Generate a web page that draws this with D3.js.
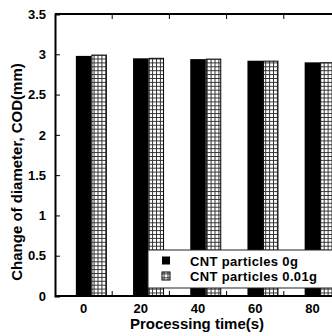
<!DOCTYPE html>
<html>
<head>
<meta charset="utf-8">
<script src="https://cdn.jsdelivr.net/npm/d3@7"></script>
<style>
    body { margin: 0; background: #fff; }
    svg { display: block; }
    .tick text { font-family: "Liberation Sans", Arial, sans-serif; font-weight: bold; font-size: 13px; }
</style>
</head>
<body>
<svg id="chart"></svg>
<script>
var times = ['0', '20', '40', '60', '80'];
var series = ['CNT particles 0g', 'CNT particles 0.01g'];
var cnt0 = [2.98, 2.95, 2.94, 2.92, 2.90];
var cnt001 = [2.99, 2.95, 2.94, 2.915, 2.895];
var yTicks = [0, 0.5, 1, 1.5, 2, 2.5, 3, 3.5];

const width = 332;
const height = 336;
const plotLeft = 55, plotTop = 14, plotBottom = 296;
const band = 57.2;

var svg = d3.select('#chart').attr('width', width).attr('height', height);

var defs = svg.append('defs');
var pat = defs.append('pattern')
    .attr('id', 'grid')
    .attr('patternUnits', 'userSpaceOnUse')
    .attr('width', 3.9)
    .attr('height', 3.9);
pat.append('rect').attr('width', 3.9).attr('height', 3.9).attr('fill', '#fff');
pat.append('path')
    .attr('d', 'M0,0.5H3.9M0.5,0V3.9')
    .attr('stroke', '#333')
    .attr('stroke-width', 1);

var x = d3.scaleBand().domain(times).range([plotLeft, plotLeft + band * times.length]);
var y = d3.scaleLinear().domain([0, 3.5]).range([plotBottom, plotTop]);
var barW = 15.5;

var rows = times.map(function (t, i) {
    return { t: t, v: [cnt0[i], cnt001[i]] };
});

// bars
var g = svg.append('g');
rows.forEach(function (r) {
    var cx = x(r.t) + x.bandwidth() / 2;
    g.append('rect')
        .attr('x', cx - barW / 2)
        .attr('y', y(r.v[0]))
        .attr('width', barW)
        .attr('height', y(0) - y(r.v[0]))
        .attr('fill', '#000');
    g.append('rect')
        .attr('x', cx + barW / 2 + 0.5)
        .attr('y', y(r.v[1]))
        .attr('width', barW - 1)
        .attr('height', y(0) - y(r.v[1]))
        .attr('fill', 'url(#grid)')
        .attr('stroke', '#000')
        .attr('stroke-width', 1);
});

// axes
var yAxis = d3.axisLeft(y).tickValues(yTicks).tickSize(-5).tickPadding(9)
    .tickFormat(function (d) { return String(d); });
svg.append('g').attr('transform', 'translate(' + plotLeft + ',0)').call(yAxis)
    .call(function (a) { a.select('.domain').attr('stroke-width', 2); });

var xAxis = d3.axisBottom(x).tickSize(0).tickPadding(8);
svg.append('g').attr('transform', 'translate(0,' + plotBottom + ')').call(xAxis)
    .call(function (a) { a.select('.domain').remove(); });

// frame lines and band ticks
var boundaries = times.slice(1).map(function (t) { return x(t); });
svg.append('line').attr('x1', plotLeft).attr('x2', width + 20)
    .attr('y1', plotTop).attr('y2', plotTop).attr('stroke', '#000').attr('stroke-width', 2);
svg.append('line').attr('x1', plotLeft).attr('x2', width + 20)
    .attr('y1', plotBottom).attr('y2', plotBottom).attr('stroke', '#000').attr('stroke-width', 2);
svg.selectAll('.ttick').data(boundaries).enter().append('line')
    .attr('x1', function (d) { return d; }).attr('x2', function (d) { return d; })
    .attr('y1', plotTop).attr('y2', plotTop + 5).attr('stroke', '#000');
svg.selectAll('.btick').data(boundaries).enter().append('line')
    .attr('x1', function (d) { return d; }).attr('x2', function (d) { return d; })
    .attr('y1', plotBottom).attr('y2', plotBottom - 5).attr('stroke', '#000');

// legend
var lg = svg.append('g').attr('transform', 'translate(148,250)');
lg.append('rect').attr('x', 0).attr('y', 0).attr('width', 200).attr('height', 38)
    .attr('fill', '#fff').attr('stroke', '#222').attr('stroke-width', 1);
series.forEach(function (s, i) {
    lg.append('rect')
        .attr('x', 14).attr('y', 6.5 + i * 15.5)
        .attr('width', 8).attr('height', 8)
        .attr('fill', i === 0 ? '#000' : 'url(#grid)')
        .attr('stroke', '#000').attr('stroke-width', i === 0 ? 0 : 1);
    lg.append('text')
        .attr('x', 42).attr('y', 11 + i * 15.5)
        .attr('dy', '0.35em')
        .style('font-family', '"Liberation Sans", Arial, sans-serif')
        .style('font-weight', 'bold')
        .style('font-size', '13px')
        .style('letter-spacing', '0.35px')
        .text(s);
});

// titles
svg.append('text')
    .attr('x', 197).attr('y', 329)
    .attr('text-anchor', 'middle')
    .style('font-family', '"Liberation Sans", Arial, sans-serif')
    .style('font-weight', 'bold').style('font-size', '15px')
    .text('Processing time(s)');
svg.append('text')
    .attr('transform', 'translate(22,172) rotate(-90)')
    .attr('text-anchor', 'middle')
    .style('font-family', '"Liberation Sans", Arial, sans-serif')
    .style('font-weight', 'bold').style('font-size', '15px')
    .text('Change of diameter, COD(mm)');
</script>
</body>
</html>
